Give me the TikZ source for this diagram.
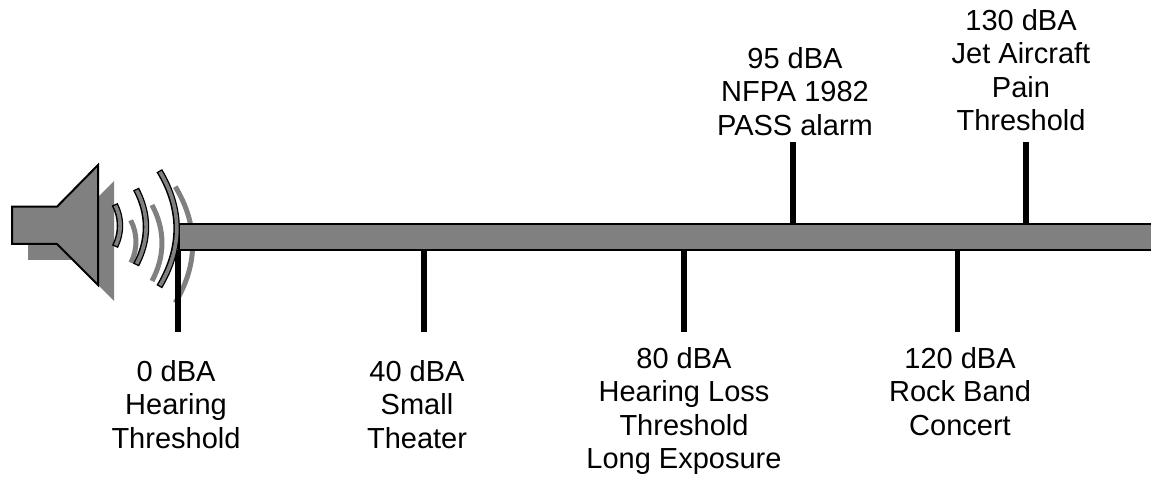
\documentclass[tikz,border=0pt]{standalone}
\usepackage{fontspec}
\setmainfont{Liberation Sans}
\definecolor{midgray}{RGB}{128,128,128}
\tikzset{
  x=1pt,y=-1pt,
  tick/.style={line width=5.5pt,black},
  lab/.style={align=center,inner sep=0pt,font=\fontsize{29}{33.4}\selectfont,text=black},
  shadowarc/.style={line width=5pt,midgray},
  arcout/.style={line width=6.5pt,black},
  arcin/.style={line width=3.7pt,midgray,shorten <=1.4pt,shorten >=1.4pt},
  horn/.style={fill=midgray,draw=black,line width=2pt,line join=miter},
  barstyle/.style={fill=midgray,draw=black,line width=2.5pt}
}
\begin{document}
\begin{tikzpicture}
\useasboundingbox (0,0) rectangle (1151,478);
% speaker shadow
\fill[midgray] (28,222.7) -- (73,222.7) -- (114,181) -- (114,301) -- (73,260) -- (28,260) -- cycle;
% wave shadows
\begin{scope}[shift={(16,16)}]
\draw[shadowarc] (114.7,204.3) .. controls (121.7,218) and (121.7,233) .. (115,246.7);
\draw[shadowarc] (136,189) .. controls (149.3,214) and (149.3,240) .. (136,265);
\draw[shadowarc] (159.3,170.7) .. controls (182.4,209) and (182.4,248) .. (159.3,286.7);
\end{scope}
% bar
\path[barstyle] (179,224) rectangle (1153,250);
% ticks
\coordinate (t0a) at (178,250); \coordinate (t0b) at (178,332);
\coordinate (t40a) at (424,250); \coordinate (t40b) at (424,332);
\coordinate (t80a) at (684,250); \coordinate (t80b) at (684,332);
\coordinate (t120a) at (957.5,250); \coordinate (t120b) at (957.5,332);
\coordinate (t95a) at (793,224); \coordinate (t95b) at (793,142);
\coordinate (t130a) at (1026,224); \coordinate (t130b) at (1026,142);
\foreach \a/\b in {t0a/t0b,t40a/t40b,t80a/t80b,t120a/t120b,t95a/t95b,t130a/t130b}
  \draw[tick] (\a) -- (\b);
% speaker
\path[horn] (12,206.7) -- (57,206.7) -- (98,165) -- (98,285) -- (57,244) -- (12,244) -- cycle;
% waves
\foreach \p in {
  {(114.7,204.3) .. controls (121.7,218) and (121.7,233) .. (115,246.7)},
  {(136,189) .. controls (149.3,214) and (149.3,240) .. (136,265)},
  {(159.3,170.7) .. controls (182.4,209) and (182.4,248) .. (159.3,286.7)}}{
  \draw[arcout] \p;
  \draw[arcin] \p;
}
% labels
\node[lab,anchor=north] (l0) at (176,360) {0 dBA\\Hearing\\Threshold};
\node[lab,anchor=north] (l40) at (417,360) {40 dBA\\Small\\Theater};
\node[lab,anchor=north] (l80) at (684,347) {80 dBA\\Hearing Loss\\Threshold\\Long Exposure};
\node[lab,anchor=north] (l120) at (960,347) {120 dBA\\Rock Band\\Concert};
\node[lab,anchor=north] (l95) at (795,47) {95 dBA\\NFPA 1982\\PASS alarm};
\node[lab,anchor=north] (l130) at (1021,9) {130 dBA\\Jet Aircraft\\Pain\\Threshold};
\end{tikzpicture}
\end{document}
